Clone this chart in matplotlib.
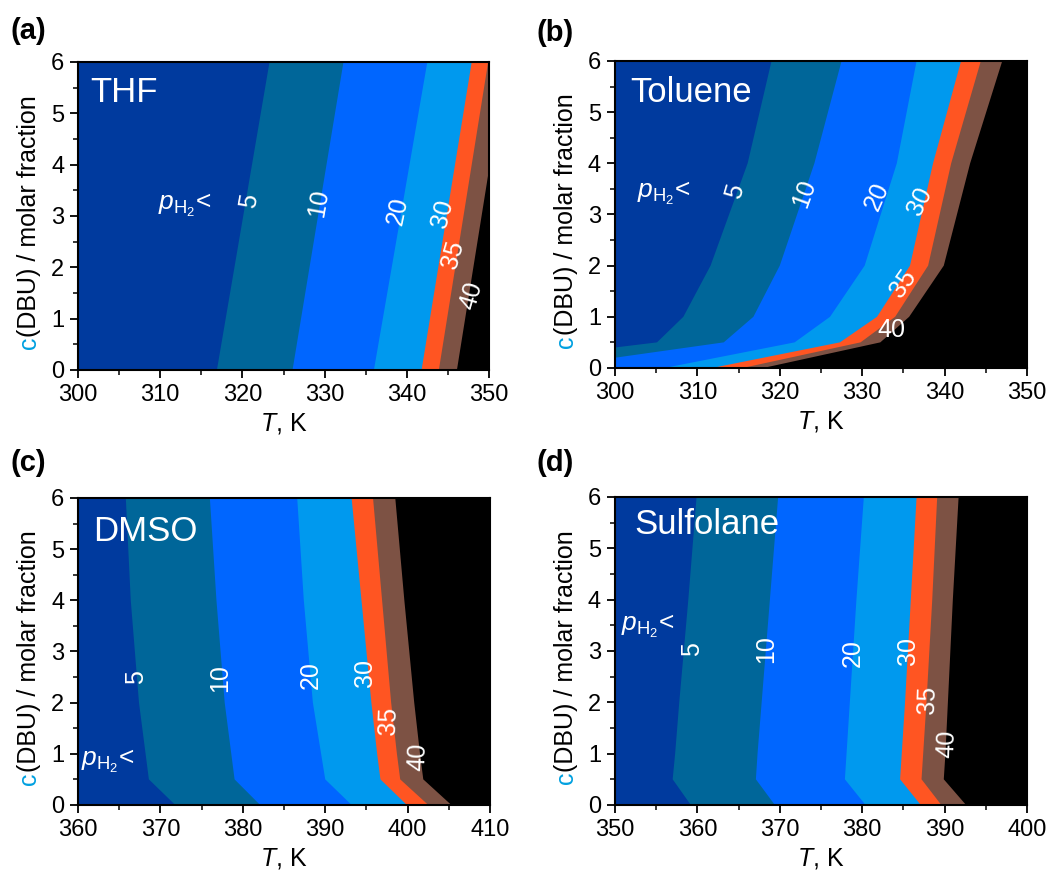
"""Hydrogen pressure maps: c(DBU) vs T for four solvents."""

import matplotlib
matplotlib.use("Agg")
import matplotlib.pyplot as plt
from matplotlib.ticker import MultipleLocator

plt.rcParams["font.family"] = ["Liberation Sans", "DejaVu Sans"]
plt.rcParams["mathtext.fontset"] = "custom"
plt.rcParams["mathtext.rm"] = "Liberation Sans"
plt.rcParams["mathtext.it"] = "Liberation Sans:italic"

# region colours, p_H2 below 5, 10, 20, 30, 35, 40 and above 40
COLORS = ["#003a9e", "#006699", "#0066ff", "#0099ee", "#ff5522", "#7d5244", "#000000"]
LEVELS = ["5", "10", "20", "30", "35", "40"]

# boundaries (T, c), bottom to top
# (a) THF
THF_C = [0, 6]
THF_T5 = [316.9, 323.3]
THF_T10 = [326.1, 332.3]
THF_T20 = [336.0, 342.5]
THF_T30 = [341.8, 347.9]
THF_T35 = [343.9, 349.9]
THF_T40 = [346.1, 352.1]

# (b) Toluene
TOL_C = [0, 0.5, 1, 2, 4, 6]
TOL_C5 = [0.4, 0.5, 1, 2, 4, 6]
TOL_C10 = [0.2, 0.5, 1, 2, 4, 6]
TOL_T5 = [300.0, 305.1, 308.3, 311.6, 316.1, 319.0]
TOL_T10 = [300.0, 313.2, 316.8, 320.0, 324.2, 327.5]
TOL_T20 = [306.0, 321.8, 326.1, 330.3, 334.2, 336.6]
TOL_T30 = [311.8, 327.3, 331.8, 335.8, 338.6, 342.0]
TOL_T35 = [315.5, 329.8, 334.0, 338.0, 340.8, 344.4]
TOL_T40 = [318.0, 332.2, 335.7, 339.9, 343.1, 347.0]

# (c) DMSO
DMSO_C = [0, 0.5, 1, 2, 4, 6]
DMSO_T5 = [371.8, 368.6, 368.2, 367.4, 366.4, 365.8]
DMSO_T10 = [382.1, 379.0, 378.6, 377.8, 376.8, 376.0]
DMSO_T20 = [393.2, 390.0, 389.5, 388.5, 387.4, 386.6]
DMSO_T30 = [399.9, 396.7, 396.3, 395.6, 394.4, 393.2]
DMSO_T35 = [402.5, 399.1, 398.7, 398.0, 396.9, 395.8]
DMSO_T40 = [405.3, 401.9, 401.5, 400.8, 399.6, 398.5]

# (d) Sulfolane
SUL_C = [0, 0.5, 1, 2, 4, 6]
SUL_T5 = [359.2, 357.0, 357.3, 357.8, 358.9, 359.9]
SUL_T10 = [369.4, 367.1, 367.3, 367.8, 368.8, 369.8]
SUL_T20 = [380.4, 377.9, 378.1, 378.5, 379.3, 380.2]
SUL_T30 = [387.1, 384.6, 384.8, 385.2, 385.9, 386.6]
SUL_T35 = [389.6, 387.2, 387.4, 387.8, 388.5, 389.1]
SUL_T40 = [392.6, 389.9, 390.1, 390.4, 391.0, 391.7]

# label anchors: (T, c, rotation) for 5..40, and the p_H2 marker
THF_LAB = [(320.8, 3.3, 80), (329.3, 3.25, 80), (338.9, 3.1, 78), (344.4, 3.05, 76),
           (345.6, 2.25, 74), (347.9, 1.45, 74)]
TOL_LAB = [(314.6, 3.45, 74), (323.0, 3.4, 70), (331.8, 3.35, 66), (337.0, 3.25, 64),
           (335.0, 1.65, 55), (333.6, 0.75, 0)]
DMSO_LAB = [(367.1, 2.5, 90), (377.2, 2.47, 90), (388.3, 2.54, 90), (394.8, 2.57, 90),
            (397.7, 1.65, 88), (401.3, 0.95, 88)]
SUL_LAB = [(359.3, 3.03, 90), (368.4, 3.03, 90), (378.9, 2.96, 90), (385.6, 2.99, 90),
           (387.9, 2.05, 88), (390.3, 1.2, 88)]
P_LAB = [(313.0, 3.2), (305.9, 3.42), (363.6, 0.85), (354.0, 3.48)]

PANELS = [
    ("(a)", "THF", (300, 350),
     [(THF_T5, THF_C), (THF_T10, THF_C), (THF_T20, THF_C), (THF_T30, THF_C),
      (THF_T35, THF_C), (THF_T40, THF_C)], THF_LAB, (0.03, 0.87)),
    ("(b)", "Toluene", (300, 350),
     [(TOL_T5, TOL_C5), (TOL_T10, TOL_C10), (TOL_T20, TOL_C), (TOL_T30, TOL_C),
      (TOL_T35, TOL_C), (TOL_T40, TOL_C)], TOL_LAB, (0.036, 0.865)),
    ("(c)", "DMSO", (360, 410),
     [(DMSO_T5, DMSO_C), (DMSO_T10, DMSO_C), (DMSO_T20, DMSO_C), (DMSO_T30, DMSO_C),
      (DMSO_T35, DMSO_C), (DMSO_T40, DMSO_C)], DMSO_LAB, (0.036, 0.86)),
    ("(d)", "Sulfolane", (350, 400),
     [(SUL_T5, SUL_C), (SUL_T10, SUL_C), (SUL_T20, SUL_C), (SUL_T30, SUL_C),
      (SUL_T35, SUL_C), (SUL_T40, SUL_C)], SUL_LAB, (0.048, 0.88)),
]

AX_POS = [
    [0.0743, 0.5767, 0.3914, 0.3524],
    [0.5857, 0.5790, 0.3924, 0.3513],
    [0.0743, 0.0790, 0.3924, 0.3513],
    [0.5857, 0.0790, 0.3924, 0.3524],
]
LETTER_POS = [(0.010, 0.980), (0.511, 0.978), (0.010, 0.486), (0.511, 0.486)]
CYAN = "#00a0e0"


def draw_panel(fig, pos, panel, letter_xy, p_xy):
    letter, name, xlim, bounds, labs, name_xy = panel
    ax = fig.add_axes(pos)
    ax.set_facecolor(COLORS[-1])
    xlo = xlim[0] - 10

    # paint from the highest pressure band down, each left of its boundary
    for i in range(len(bounds) - 1, -1, -1):
        ts, cs = bounds[i]
        xs = list(ts) + [xlo, xlo]
        ys = list(cs) + [cs[-1], cs[0]]
        ax.fill(xs, ys, color=COLORS[i], lw=0, zorder=1)

    ax.set_xlim(*xlim)
    ax.set_ylim(0, 6)
    ax.xaxis.set_major_locator(MultipleLocator(10))
    ax.xaxis.set_minor_locator(MultipleLocator(5))
    ax.yaxis.set_major_locator(MultipleLocator(1))
    ax.yaxis.set_minor_locator(MultipleLocator(0.5))
    ax.tick_params(which="major", direction="out", length=6, width=1.3,
                   labelsize=17, pad=4)
    ax.tick_params(which="minor", direction="out", length=3.5, width=1.1)
    for sp in ax.spines.values():
        sp.set_linewidth(1.5)
        sp.set_zorder(5)

    ax.set_xlabel(r"$T$, K", fontsize=18, labelpad=4)
    yl = ax.text(-0.12, 0.5, "(DBU) / molar fraction", transform=ax.transAxes,
                 rotation=90, ha="center", va="center", fontsize=18)
    ax.annotate("c", xy=(0.5, 0), xycoords=yl, rotation=90, ha="center",
                va="top", fontsize=18, color=CYAN)

    ax.text(name_xy[0], name_xy[1], name, transform=ax.transAxes, color="white",
            fontsize=25, ha="left", va="baseline", zorder=6)

    for lev, (tx, cy, rot) in zip(LEVELS, labs):
        ax.text(tx, cy, lev, color="white", fontsize=18, rotation=rot,
                ha="center", va="center", rotation_mode="anchor", zorder=6)
    ax.text(p_xy[0], p_xy[1], r"$p_{\mathrm{H}_2}$<", color="white", fontsize=19,
            ha="center", va="center", zorder=6)

    fig.text(letter_xy[0], letter_xy[1], letter, fontsize=21, fontweight="bold",
             ha="left", va="top")
    return ax


def main() -> None:
    fig = plt.figure(figsize=(10.5, 8.74), dpi=100)
    fig.patch.set_facecolor("white")
    for pos, panel, lxy, pxy in zip(AX_POS, PANELS, LETTER_POS, P_LAB):
        draw_panel(fig, pos, panel, lxy, pxy)
    fig.savefig("out.png", dpi=100, facecolor="white")
    plt.close(fig)


if __name__ == "__main__":
    main()
